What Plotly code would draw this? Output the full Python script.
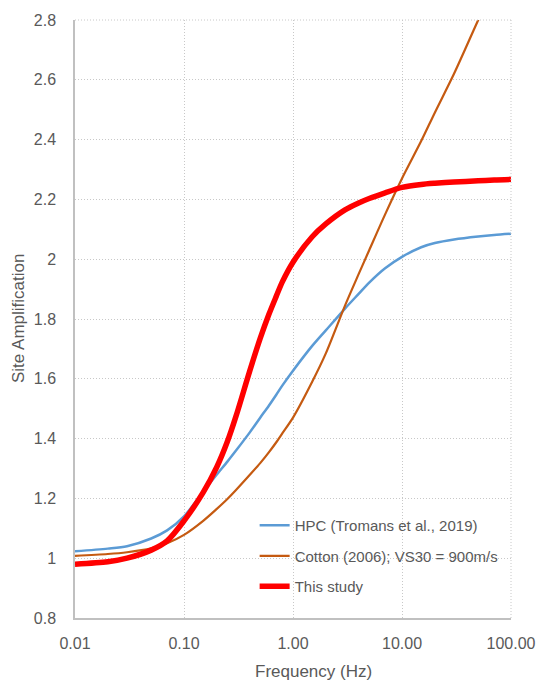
import plotly.graph_objects as go

# Frequency sampling (Hz)
freq = [0.01, 0.02, 0.03, 0.05, 0.07, 0.1, 0.15, 0.2, 0.25, 0.3, 0.4, 0.5, 0.6, 0.7,
        0.8, 1.0, 1.5, 2.0, 3.0, 4.0, 5.0, 7.0, 10.0, 15.0, 20.0, 30.0, 50.0, 70.0, 100.0]

# Site amplification curves
hpc = [1.023, 1.032, 1.040, 1.066, 1.093, 1.140, 1.222, 1.280, 1.323, 1.360, 1.420, 1.470,
       1.510, 1.546, 1.578, 1.627, 1.710, 1.762, 1.835, 1.884, 1.922, 1.970, 2.008, 2.040,
       2.054, 2.066, 2.076, 2.081, 2.085]
cotton = [1.008, 1.014, 1.020, 1.033, 1.050, 1.078, 1.125, 1.165, 1.198, 1.228, 1.278, 1.318,
          1.354, 1.387, 1.418, 1.470, 1.590, 1.685, 1.845, 1.950, 2.030, 2.150, 2.270, 2.395,
          2.490, 2.620, 2.800, 2.920, 3.040]
this_study = [0.980, 0.988, 1.000, 1.027, 1.058, 1.125, 1.220, 1.305, 1.390, 1.475, 1.625, 1.735,
              1.815, 1.875, 1.925, 1.990, 2.075, 2.118, 2.165, 2.188, 2.203, 2.222, 2.240, 2.250,
              2.254, 2.258, 2.262, 2.265, 2.267]

series_names = ["HPC (Tromans et al., 2019)", "Cotton (2006); VS30 = 900m/s", "This study"]
series_values = [hpc, cotton, this_study]
series_colors = ["#5B9BD5", "#C55A11", "#FF0000"]
series_widths = [2.5, 2.2, 5.5]

y_ticks = [0.8, 1.0, 1.2, 1.4, 1.6, 1.8, 2.0, 2.2, 2.4, 2.6, 2.8]
y_labels = ["0.8", "1", "1.2", "1.4", "1.6", "1.8", "2", "2.2", "2.4", "2.6", "2.8"]
x_ticks = [0.01, 0.1, 1, 10, 100]
x_labels = ["0.01", "0.10", "1.00", "10.00", "100.00"]

FONT = "Liberation Sans, Arial, Helvetica, sans-serif"
TEXT = "#595959"
GRID = "#C8C8C8"

fig = go.Figure()
for i, (name, vals, col, w) in enumerate(zip(series_names, series_values, series_colors, series_widths)):
    fig.add_trace(go.Scatter(
        x=freq, y=vals, mode="lines", name=name,
        line=dict(color=col, width=w, shape="spline", smoothing=0.8),
        legendgroup=f"g{i}",
    ))

fig.update_layout(
    width=548, height=683,
    margin=dict(l=75, r=36, t=14, b=65),
    paper_bgcolor="white", plot_bgcolor="white",
    font=dict(family=FONT, color=TEXT, size=16),
    showlegend=True,
    legend=dict(
        x=0.412, y=0.025, xanchor="left", yanchor="bottom",
        bgcolor="rgba(255,255,255,0)", borderwidth=0,
        font=dict(size=15, color=TEXT, family=FONT),
        tracegroupgap=8, itemwidth=30,
    ),
    xaxis=dict(
        type="log", range=[-2, 2],
        tickvals=x_ticks, ticktext=x_labels,
        showgrid=True, gridcolor=GRID, griddash="1px,2px", gridwidth=1,
        showline=True, linecolor="#C0C0C0", linewidth=1.5,
        ticks="", ticklabelstandoff=10,
        tickfont=dict(size=16, color=TEXT),
        zeroline=False,
    ),
    yaxis=dict(
        range=[0.8, 2.8],
        tickvals=y_ticks, ticktext=y_labels,
        showgrid=True, gridcolor=GRID, griddash="1px,2px", gridwidth=1,
        showline=True, linecolor="#C0C0C0", linewidth=1.5,
        ticks="", ticklabelstandoff=14,
        tickfont=dict(size=16, color=TEXT),
        zeroline=False,
    ),
    annotations=[
        dict(text="Frequency (Hz)", xref="paper", yref="paper", x=0.547, y=0,
             yshift=-53, showarrow=False, font=dict(size=17, color=TEXT),
             xanchor="center", yanchor="middle"),
        dict(text="Site Amplification", xref="paper", yref="paper", x=0, y=0.5,
             xshift=-57, textangle=-90, showarrow=False, font=dict(size=17, color=TEXT),
             xanchor="center", yanchor="middle"),
    ],
)

# dotted frame on the top and right edges
fig.add_shape(type="line", xref="paper", yref="paper", x0=0, x1=1, y0=1, y1=1,
              line=dict(color=GRID, width=1, dash="1px,2px"))
fig.add_shape(type="line", xref="paper", yref="paper", x0=1, x1=1, y0=0, y1=1,
              line=dict(color=GRID, width=1, dash="1px,2px"))

fig.write_html("out.html")
